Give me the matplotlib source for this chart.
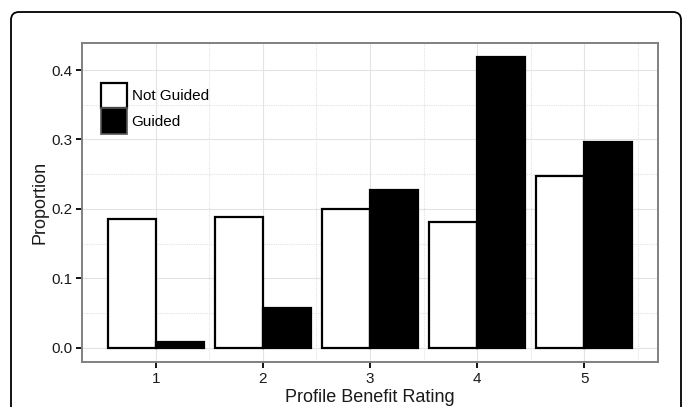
import numpy as np
import matplotlib
matplotlib.use("Agg")
import matplotlib.pyplot as plt
from matplotlib.patches import Patch, FancyBboxPatch
from matplotlib.transforms import IdentityTransform

plt.rcParams['font.family'] = ['Liberation Sans', 'DejaVu Sans']

ratings = [1, 2, 3, 4, 5]
not_guided = [0.186, 0.188, 0.200, 0.181, 0.247]
guided = [0.008, 0.057, 0.227, 0.419, 0.296]

fig = plt.figure(figsize=(6.83, 4.07), dpi=100)
ax = fig.add_axes([82 / 683, 1 - 362 / 407, 576 / 683, 319 / 407])

# outer frame of the figure panel (pixel coords)
frame = FancyBboxPatch((11, -60), 670, 407 - 12 + 60,
                       boxstyle="round,pad=0,rounding_size=8",
                       transform=IdentityTransform(), fill=False,
                       edgecolor='black', linewidth=1.3, clip_on=False)
fig.patches.append(frame)

x = np.array(ratings, dtype=float)
w = 0.45
ax.bar(x - w / 2, not_guided, width=w, color='white', edgecolor='black',
       linewidth=1.6, zorder=3)
ax.bar(x + w / 2, guided, width=w, color='black', edgecolor='black',
       linewidth=1.6, zorder=3)

ax.set_xlim(0.31, 5.69)
ax.set_ylim(-0.0205, 0.439)
ax.set_xticks(ratings)
ax.set_yticks([0.0, 0.1, 0.2, 0.3, 0.4])
ax.set_yticklabels(['0.0', '0.1', '0.2', '0.3', '0.4'])
ax.set_xticks([1.5, 2.5, 3.5, 4.5, 5.5], minor=True)
ax.set_yticks([0.05, 0.15, 0.25, 0.35], minor=True)

ax.grid(True, which='major', color='#e3e3e3', linewidth=0.8, linestyle='-', zorder=0)
ax.grid(True, which='minor', color='#e3e3e3', linewidth=0.8, linestyle=(0, (1, 1)), zorder=0)
ax.set_axisbelow(True)

for s in ax.spines.values():
    s.set_color('#808080')
    s.set_linewidth(1.4)

ax.tick_params(axis='both', which='major', length=4, width=1.3, color='black',
               labelsize=11, labelcolor='#1a1a1a', pad=3)
ax.tick_params(axis='both', which='minor', length=0)

ax.set_xlabel('Profile Benefit Rating', fontsize=13, color='#1a1a1a', labelpad=2)
ax.set_ylabel('Proportion', fontsize=13, color='#1a1a1a', labelpad=2)

handles = [Patch(facecolor='white', edgecolor='black', linewidth=1.6, label='Not Guided'),
           Patch(facecolor='black', edgecolor='#555555', linewidth=1.2, label='Guided')]
ax.legend(handles=handles, loc='upper left', bbox_to_anchor=(0.033, 0.875),
          frameon=False, fontsize=11, handlelength=1.7, handleheight=2.2,
          labelspacing=0.0, handletextpad=0.3, borderpad=0, borderaxespad=0)

fig.savefig('out.png', dpi=100)
